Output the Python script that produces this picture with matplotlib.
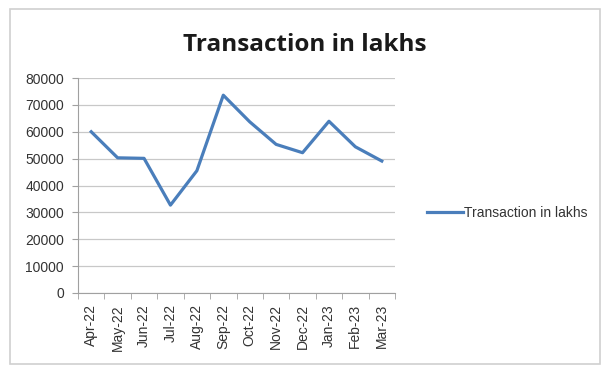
import matplotlib
matplotlib.use("Agg")
import matplotlib.pyplot as plt
from matplotlib.patches import Rectangle

months = ["Apr-22", "May-22", "Jun-22", "Jul-22", "Aug-22", "Sep-22",
          "Oct-22", "Nov-22", "Dec-22", "Jan-23", "Feb-23", "Mar-23"]
transactions = [60000, 50300, 50100, 32700, 45500, 73600,
                63700, 55300, 52200, 63900, 54400, 49100]
y_ticks = list(range(0, 80001, 10000))

W, H = 605, 366
fig = plt.figure(figsize=(W / 100, H / 100), dpi=100)
fig.patch.set_facecolor("white")

# chart frame
fig.patches.append(Rectangle((10 / W, 1 - 364 / H), 590 / W, 355 / H,
                             transform=fig.transFigure, fill=False,
                             edgecolor="#d0d0d0", lw=1.2))

ax = fig.add_axes([78 / W, 1 - 293 / H, 317 / W, 215 / H])
x = list(range(len(months)))
ax.plot(x, transactions, color="#4a7ebb", lw=2.3, label="Transaction in lakhs",
        solid_joinstyle="round")

ax.set_xlim(-0.5, len(months) - 0.5)
ax.set_ylim(0, 80000)
ax.set_yticks(y_ticks)
ax.set_yticklabels([str(v) for v in y_ticks], fontsize=10, color="#333333",
                   family="Liberation Sans")
ax.set_xticks(x)
ax.set_xticklabels(months, rotation=90, fontsize=10, color="#333333",
                   family="Liberation Sans")
ax.tick_params(axis="x", length=0, pad=8)
ax.set_xticks([i - 0.5 for i in range(len(months) + 1)], minor=True)
ax.tick_params(axis="x", which="minor", length=4, color="#a0a0a0")
ax.tick_params(axis="y", length=4, color="#a0a0a0", pad=6)

ax.grid(axis="y", color="#c8c8c8", lw=0.9)
ax.set_axisbelow(True)
for side in ("top", "right"):
    ax.spines[side].set_visible(False)
for side in ("left", "bottom"):
    ax.spines[side].set_color("#a0a0a0")

fig.text(305 / W, 1 - 45 / H, "Transaction in lakhs", ha="center", va="center",
         fontsize=17.5, fontweight="bold", color="#1a1a1a", family="Open Sans")

fig.legend(loc="center left", bbox_to_anchor=(414 / W, 1 - 213 / H),
           frameon=False, handlelength=2.6, handletextpad=0.1,
           prop={"family": "Liberation Sans", "size": 10})
for t in fig.legends[0].get_texts():
    t.set_color("#333333")

fig.savefig("out.png", dpi=100, facecolor="white")
